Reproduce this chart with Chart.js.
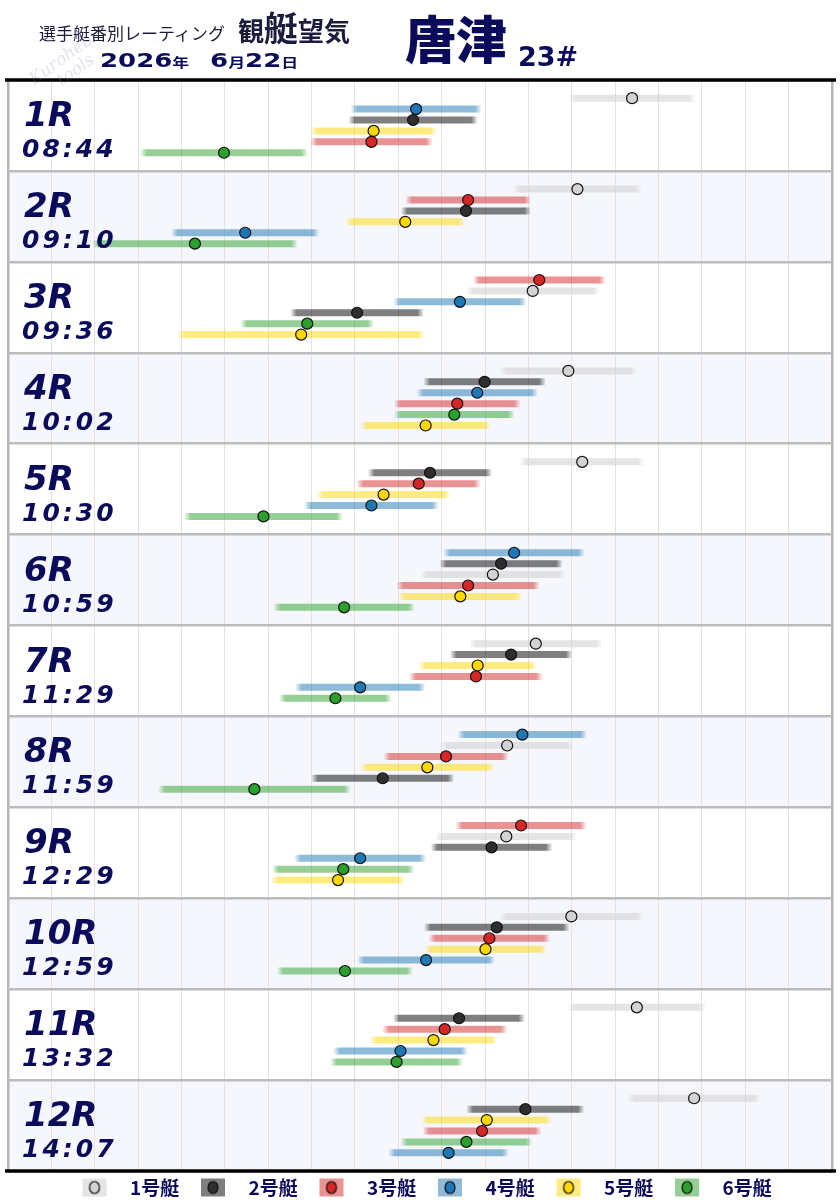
<!DOCTYPE html>
<html><head><meta charset="utf-8">
<script src="https://cdn.jsdelivr.net/npm/chart.js@4.4.0/dist/chart.umd.min.js"></script>
<style>
html,body{margin:0;padding:0;background:#fff;width:840px;height:1200px;overflow:hidden}
#wrap{position:relative;width:840px;height:1200px;overflow:hidden}
#c{position:absolute;left:0;top:0}
.h{position:absolute;color:#0b0b5c;white-space:nowrap;line-height:1;font-family:"Noto Sans CJK JP",sans-serif}
</style></head><body>
<div id="wrap">
<canvas id="c" width="840" height="1207"></canvas>
<div class="h" style="left:26px;top:74px;font-family:'DejaVu Serif',serif;font-style:italic;font-size:17px;line-height:17px;color:rgba(120,120,190,0.22);transform:rotate(-36deg);transform-origin:left top">Kurohebi's<br>&nbsp;&nbsp;&nbsp;&nbsp;tools</div>
<div class="h" style="left:39px;top:24px;font-size:17px;color:#1c1c3c">選手艇番別レーティング</div>
<div class="h" style="left:238px;top:10px;font-weight:700;font-size:26px;color:#1c1c3c">観<span style="font-size:34px">艇</span>望気</div>
<div class="h" style="left:100px;top:50px;font-weight:700;color:#0b0b5c;transform:scaleX(1.3);transform-origin:left top"><span style="font-family:'DejaVu Sans';font-size:20px">2026</span><span style="font-size:13px">年</span><span style="font-family:'DejaVu Sans';font-size:20px;margin-left:16px">6</span><span style="font-size:13px">月</span><span style="font-family:'DejaVu Sans';font-size:20px">22</span><span style="font-size:13px">日</span></div>
<div class="h" style="left:405px;top:12px;font-weight:900;font-size:51px">唐津</div>
<div class="h" style="left:518px;top:43px;font-family:'DejaVu Sans';font-weight:700;font-size:27px">23#</div>
</div>
<script>
// ---- data ----
const races = ['1R','2R','3R','4R','5R','6R','7R','8R','9R','10R','11R','12R'];
const times = ['08:44','09:10','09:36','10:02','10:30','10:59','11:29','11:59','12:29','12:59','13:32','14:07'];
const boatNames = ['1号艇','2号艇','3号艇','4号艇','5号艇','6号艇'];
// rating (marker) per race, by boat
const rating1 = [14.39, 13.13, 12.10, 12.92, 13.24, 11.18, 12.17, 11.51, 11.49, 12.99, 14.50, 15.82];
const rating2 = [9.34, 10.56, 8.05, 10.99, 9.73, 11.37, 11.60, 8.64, 11.15, 11.27, 10.40, 11.93];
const rating3 = [8.38, 10.61, 12.25, 10.36, 9.47, 10.61, 10.79, 10.10, 11.83, 11.10, 10.07, 10.93];
const rating4 = [9.41, 5.47, 10.42, 10.82, 8.38, 11.67, 8.12, 11.86, 8.12, 9.64, 9.05, 10.16];
const rating5 = [8.43, 9.16, 6.76, 9.63, 8.66, 10.43, 10.83, 9.67, 7.61, 11.01, 9.81, 11.04];
const rating6 = [4.98, 4.31, 6.90, 10.29, 5.89, 7.75, 7.55, 5.68, 7.73, 7.77, 8.96, 10.57];
// half-width of the range bar per race, by boat
const spread1 = [1.45, 1.47, 1.53, 1.57, 1.43, 1.66, 1.53, 1.52, 1.62, 1.65, 1.58, 1.52];
const spread2 = [1.48, 1.49, 1.53, 1.40, 1.42, 1.41, 1.40, 1.64, 1.39, 1.67, 1.51, 1.35];
const spread3 = [1.40, 1.44, 1.52, 1.45, 1.42, 1.64, 1.53, 1.43, 1.50, 1.39, 1.43, 1.36];
const spread4 = [1.50, 1.70, 1.52, 1.39, 1.54, 1.62, 1.49, 1.48, 1.51, 1.58, 1.54, 1.38];
const spread5 = [1.45, 1.37, 2.84, 1.49, 1.53, 1.42, 1.35, 1.53, 1.53, 1.40, 1.46, 1.49];
const spread6 = [1.92, 2.36, 1.53, 1.38, 1.82, 1.62, 1.29, 2.21, 1.63, 1.56, 1.52, 1.51];

const ratings = [rating1, rating2, rating3, rating4, rating5, rating6];
const spreads = [spread1, spread2, spread3, spread4, spread5, spread6];

// ---- styles ----
const markerColors = ['#d3d3d3', '#2e2e2e', '#d62728', '#1f77b4', '#ffd700', '#2ca02c'];
const barRGB = [[211,211,211,0.6], [0,0,0,0.5], [214,39,40,0.5], [31,119,180,0.5], [255,215,0,0.5], [44,160,44,0.5]];
const rgba = (c, a) => `rgba(${c[0]},${c[1]},${c[2]},${a})`;
const barColors = barRGB.map(c => rgba(c, c[3]));
const NAVY = '#0b0b5c';
const PANEL = 25, TOPGAP = 5, SLOT = 3;

// slot within each race: ordered by rating, highest on top
const slotOf = ratings.map(() => []);
races.forEach((r, ri) => {
  const order = [0,1,2,3,4,5].sort((a, b) => ratings[b][ri] - ratings[a][ri]);
  order.forEach((b, s) => { slotOf[b][ri] = s; });
});
const yOf = (b, ri) => ri * PANEL + TOPGAP + SLOT * slotOf[b][ri];

const datasets = [];
for (let b = 0; b < 6; b++) {
  const pts = races.map((r, ri) => ({ x: ratings[b][ri], y: yOf(b, ri) }));
  datasets.push({
    label: boatNames[b], data: pts, showLine: false, order: 0,
    pointRadius: 5.5, pointHoverRadius: 5.5, pointBackgroundColor: markerColors[b],
    pointBorderColor: '#111', pointBorderWidth: 1.2
  });
}
function fadeSegment(b) {
  return ctx => {
    const x0 = ctx.p0.x, x1 = ctx.p1.x;
    const len = Math.abs(x1 - x0);
    if (!isFinite(len) || len < 1) return barColors[b];
    const g = ctx.chart.ctx.createLinearGradient(x0, 0, x1, 0);
    const f = Math.min(0.45, 6 / len);
    const c = barRGB[b];
    g.addColorStop(0, rgba(c, c[3] * 0.1));
    g.addColorStop(f, rgba(c, c[3]));
    g.addColorStop(1 - f, rgba(c, c[3]));
    g.addColorStop(1, rgba(c, c[3] * 0.1));
    return g;
  };
}
for (let b = 0; b < 6; b++) {
  const seg = [];
  races.forEach((r, ri) => {
    const y = yOf(b, ri);
    seg.push({ x: ratings[b][ri] - spreads[b][ri], y });
    seg.push({ x: ratings[b][ri] + spreads[b][ri], y });
    seg.push({ x: NaN, y: NaN });
  });
  datasets.push({
    label: boatNames[b] + ' range', data: seg, showLine: true, spanGaps: false, order: 1,
    borderColor: barColors[b], borderWidth: 7, borderCapStyle: 'butt', pointRadius: 0, tension: 0,
    segment: { borderColor: fadeSegment(b) }
  });
}

function legendIcon(i) {
  const c = document.createElement('canvas');
  c.width = 56; c.height = 20;
  const g = c.getContext('2d');
  g.fillStyle = barColors[i];
  g.fillRect(18, 1, 24, 18);
  g.beginPath(); g.ellipse(30, 10, 5, 6, 0, 0, Math.PI * 2);
  g.fillStyle = markerColors[i]; g.fill();
  g.lineWidth = 1.2; g.strokeStyle = '#111'; g.stroke();
  return c;
}
const icons = boatNames.map((n, i) => legendIcon(i));

const bgPlugin = {
  id: 'bands',
  beforeDraw(chart) {
    const { ctx, chartArea: a, scales: { y } } = chart;
    ctx.save();
    races.forEach((r, ri) => {
      if (ri % 2 === 1) {
        const t = y.getPixelForValue(ri * PANEL), bt = y.getPixelForValue((ri + 1) * PANEL);
        ctx.fillStyle = '#f5f7fd';
        ctx.fillRect(a.left, t, a.right - a.left, bt - t);
      }
    });
    ctx.restore();
  },
  afterDatasetsDraw(chart) {
    const { ctx, chartArea: a, scales: { y } } = chart;
    ctx.save();
    ctx.fillStyle = NAVY;
    ctx.textBaseline = 'alphabetic';
    races.forEach((r, ri) => {
      const t = y.getPixelForValue(ri * PANEL);
      ctx.font = 'italic bold 34px "DejaVu Sans"';
      ctx.letterSpacing = '0px';
      ctx.fillText(r, a.left + 16, t + 46);
      ctx.font = 'italic bold 25px "DejaVu Sans"';
      ctx.letterSpacing = '3px';
      ctx.fillText(times[ri], a.left + 14, t + 77);
    });
    ctx.restore();
  },
  afterDraw(chart) {
    const { ctx, chartArea: a, scales: { y } } = chart;
    ctx.save();
    ctx.strokeStyle = '#000'; ctx.lineWidth = 3.5;
    [0, races.length * PANEL].forEach(v => {
      const p = y.getPixelForValue(v);
      ctx.beginPath(); ctx.moveTo(a.left - 3, p); ctx.lineTo(a.right + 4, p); ctx.stroke();
    });
    ctx.restore();
  }
};

new Chart(document.getElementById('c'), {
  type: 'scatter',
  data: { datasets },
  plugins: [bgPlugin],
  options: {
    responsive: false, animation: false, maintainAspectRatio: false,
    layout: { padding: { left: 8, right: 8, top: 80, bottom: 0 } },
    plugins: {
      tooltip: { enabled: false },
      legend: {
        position: 'bottom',
        title: { display: true, text: ' ', font: { size: 1 }, padding: { top: 3, bottom: 2.8 } },
        labels: {
          usePointStyle: true, pointStyleWidth: 56, padding: 0,
          color: NAVY, font: { family: '"Noto Sans CJK JP"', size: 19, weight: 'bold' },
          generateLabels: () => boatNames.map((n, i) => ({
            text: n + '\u2009', pointStyle: icons[i], fillStyle: markerColors[i], strokeStyle: '#111',
            lineWidth: 0, hidden: false, datasetIndex: i, fontColor: NAVY
          }))
        }
      }
    },
    scales: {
      x: {
        type: 'linear', min: 0, max: 19,
        ticks: { display: false, stepSize: 1 },
        border: { display: false },
        grid: {
          drawTicks: false,
          color: c => (c.tick.value === 0 || c.tick.value === 19) ? '#b5b5b5' : '#e1e1e6',
          lineWidth: c => (c.tick.value === 0 || c.tick.value === 19) ? 2.5 : 1
        }
      },
      y: {
        type: 'linear', min: 0, max: races.length * PANEL, reverse: true,
        ticks: { display: false, stepSize: PANEL },
        border: { display: false },
        grid: { drawTicks: false, color: '#bcbcbc', lineWidth: 2.5 }
      }
    }
  }
});
</script>
</body></html>
